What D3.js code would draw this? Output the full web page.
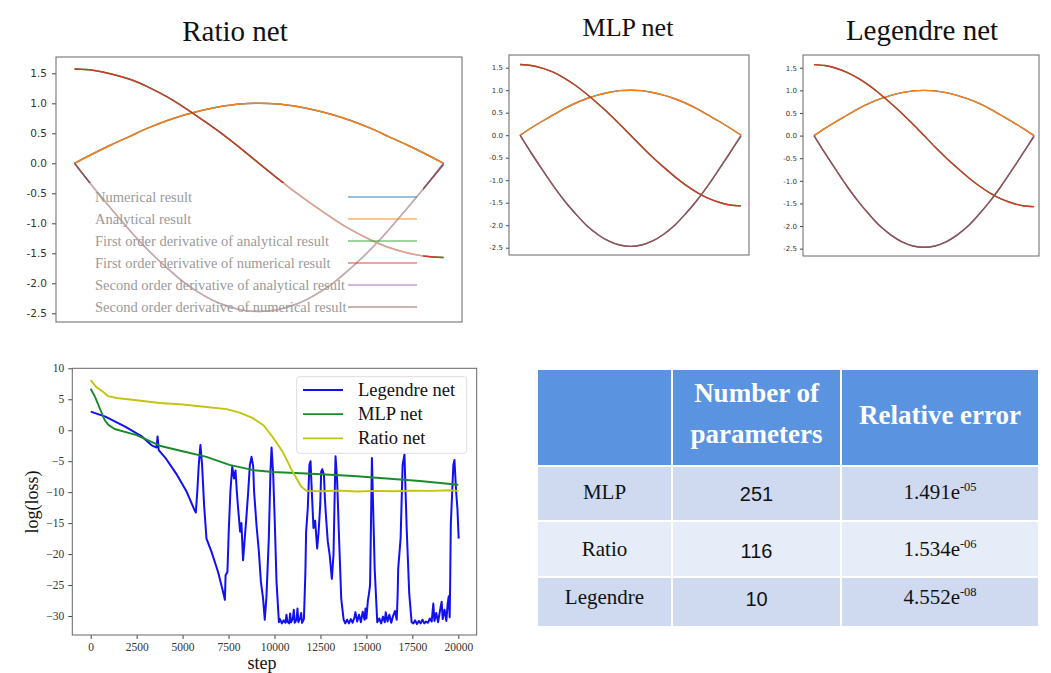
<!DOCTYPE html>
<html><head><meta charset="utf-8">
<script src="https://cdn.jsdelivr.net/npm/d3@7"></script>
<style>body{margin:0;background:#fff}svg{display:block}</style>
</head><body><svg id="c" width="1051" height="673"></svg>
<script>
// ---------- derivative panels data (x from 0 to 2) ----------
const xs = [0,0.1,0.2,0.3,0.4,0.5,0.6,0.7,0.8,0.9,1.0,1.1,1.2,1.3,1.4,1.5,1.6,1.7,1.8,1.9,2.0];
const numerical = [0,0.16,0.31,0.45,0.59,0.71,0.81,0.89,0.95,0.99,1.0,0.99,0.95,0.89,0.81,0.71,0.59,0.45,0.31,0.16,0];
const analytical = [0,0.16,0.31,0.45,0.59,0.71,0.81,0.89,0.95,0.99,1.0,0.99,0.95,0.89,0.81,0.71,0.59,0.45,0.31,0.16,0];
const firstAnalytical = [1.57,1.55,1.49,1.40,1.27,1.11,0.92,0.71,0.49,0.25,0,-0.25,-0.49,-0.71,-0.92,-1.11,-1.27,-1.40,-1.49,-1.55,-1.57];
const firstNumerical = [1.57,1.55,1.49,1.40,1.27,1.11,0.92,0.71,0.49,0.25,0,-0.25,-0.49,-0.71,-0.92,-1.11,-1.27,-1.40,-1.49,-1.55,-1.57];
const secondAnalytical = [0,-0.39,-0.76,-1.12,-1.45,-1.74,-2.0,-2.2,-2.35,-2.44,-2.47,-2.44,-2.35,-2.2,-2.0,-1.74,-1.45,-1.12,-0.76,-0.39,0];
const secondNumerical = [0,-0.39,-0.76,-1.12,-1.45,-1.74,-2.0,-2.2,-2.35,-2.44,-2.47,-2.44,-2.35,-2.2,-2.0,-1.74,-1.45,-1.12,-0.76,-0.39,-0.02];
const derivTicks = [1.5,1.0,0.5,0.0,-0.5,-1.0,-1.5,-2.0,-2.5];
const legendLabels = ["Numerical result","Analytical result","First order derivative of analytical result","First order derivative of numerical result","Second order derivative of analytical result","Second order derivative of numerical result"];
const seriesColors = ["#1f77b4","#ff7f0e","#2ca02c","#cc3a30","#9467bd","#8c564b"];
const panelTitles = ["Ratio net","MLP net","Legendre net"];

// ---------- loss curves ----------
const lossLabels = ["Legendre net","MLP net","Ratio net"];
const lossColors = ["#1010f0","#1a8a2a","#c4c410"];
const legendreLoss = [[0,3.0],[800,2.2],[1900,0.55],[2800,-1.05],[3300,-2.4],[3580,-2.8],[3640,-1.0],[3700,-3.2],[4100,-4.6],[4650,-7.0],[5200,-9.8],[5650,-12.9],[5720,-13.3],[5800,-9.9],[5880,-5.6],[5970,-2.4],[6060,-5.6],[6170,-12.1],[6300,-17.5],[6570,-19.6],[6930,-22.9],[7200,-26.1],[7300,-27.4],[7340,-23.4],[7440,-22.9],[7510,-16.4],[7600,-9.9],[7700,-5.9],[7800,-7.8],[7880,-6.5],[7950,-9.9],[8020,-12.6],[8130,-16.4],[8200,-15.0],[8290,-21.0],[8380,-17.5],[8460,-14.5],[8570,-9.9],[8660,-5.6],[8750,-4.3],[8840,-5.8],[8890,-9.9],[9020,-15.3],[9150,-19.6],[9260,-24.5],[9380,-27.2],[9470,-30.6],[9560,-27.0],[9690,-17.5],[9780,-6.7],[9840,-2.8],[9930,-7.2],[10020,-15.3],[10110,-24.5],[10240,-31.0],
[10300,-30.5],[10400,-31.2],[10500,-30.7],[10600,-31.1],[10650,-29.8],[10700,-30.9],[10800,-31.2],[10850,-29.6],[10900,-31.0],[11000,-30.4],[11050,-29.0],[11100,-31.1],[11200,-30.6],[11250,-28.8],[11300,-31.0],[11400,-30.3],[11450,-29.5],[11500,-31.1],[11600,-30.5],
[11680,-23.0],[11720,-16.4],[11810,-12.6],[11900,-5.6],[11960,-5.0],[12030,-9.9],[12120,-15.8],[12210,-14.6],[12320,-19.1],[12400,-16.4],[12490,-11.9],[12540,-6.7],[12600,-6.3],[12690,-7.2],[12740,-11.0],[12810,-14.3],[12900,-18.0],[13000,-20.1],[13120,-24.0],[13210,-20.1],[13270,-11.0],[13320,-4.2],[13410,-8.3],[13500,-16.4],[13630,-27.2],[13760,-30.6],
[13850,-31.2],[13950,-30.6],[14050,-31.2],[14150,-30.5],[14250,-31.1],[14350,-30.2],[14400,-29.4],[14500,-30.9],[14600,-29.8],[14700,-31.0],[14800,-29.3],[14900,-30.6],[14950,-28.8],[15000,-30.4],[15080,-27.5],[15130,-26.6],[15200,-25.0],
[15300,-4.5],[15450,-22.4],[15590,-31.0],
[15700,-30.4],[15800,-31.2],[15900,-30.1],[16000,-31.0],[16050,-29.4],[16150,-30.9],[16250,-29.8],[16350,-31.1],[16450,-30.0],[16550,-29.2],[16650,-30.6],[16700,-26.5],[16730,-22.3],
[16860,-17.5],[16970,-5.6],[17070,-3.9],[17190,-15.8],[17330,-26.4],[17460,-31.0],
[17550,-31.2],[17650,-30.7],[17750,-31.3],[17850,-30.8],[17950,-31.2],[18050,-30.6],[18150,-31.2],[18250,-30.9],[18350,-31.1],[18450,-30.4],[18550,-30.9],[18640,-28.0],[18700,-30.8],[18800,-29.5],[18900,-31.0],[19000,-29.2],[19094,-27.7],[19150,-30.5],[19250,-29.0],[19350,-30.8],[19420,-28.0],[19480,-26.8],[19530,-30.2],[19560,-24.0],
[19590,-15.3],[19730,-5.6],[19790,-4.8],[19880,-9.9],[19950,-12.6],[20020,-17.5]];
const mlpLoss = [[0,6.7],[250,5.3],[500,3.5],[750,1.7],[950,0.9],[1300,0.2],[2500,-0.8],[3400,-2.0],[3750,-2.5],[5000,-3.4],[6300,-4.3],[7550,-5.6],[8850,-6.45],[9900,-6.75],[11750,-7.0],[14300,-7.4],[16100,-7.8],[17900,-8.2],[20000,-8.8]];
const ratioLoss = [[0,8.1],[300,7.0],[670,6.2],[950,5.5],[1400,5.2],[2500,4.85],[3750,4.4],[5000,4.15],[6300,3.75],[7400,3.4],[8100,2.85],[8800,2.0],[9400,0.8],[9900,-1.1],[10450,-3.5],[10900,-6.2],[11200,-7.8],[11450,-9.1],[11750,-9.8],[12500,-9.85],[13500,-9.75],[14500,-9.9],[15500,-9.8],[16500,-9.85],[17500,-9.75],[18500,-9.8],[19500,-9.7],[20000,-9.8]];
const stepTicks = [0,2500,5000,7500,10000,12500,15000,17500,20000];
const lossTicks = [10,5,0,-5,-10,-15,-20,-25,-30];

// ---------- table ----------
const tableHeaders = ["", "Number of|parameters", "Relative error"];
const models = ["MLP","Ratio","Legendre"];
const paramCounts = ["251","116","10"];
const errMantissa = ["1.491e","1.534e","4.552e"];
const errExponent = ["-05","-06","-08"];

const svg = d3.select('#c');
svg.append('rect').attr('width',1051).attr('height',673).attr('fill','#fff');
const serif = "'Liberation Serif','Times New Roman',serif";

const derivSeries = [numerical, analytical, firstAnalytical, firstNumerical, secondAnalytical, secondNumerical];

function derivPanel(cfg) {
  const x = d3.scaleLinear().domain(cfg.xd).range([cfg.l, cfg.r]);
  const y = d3.scaleLinear().domain(cfg.yd).range([cfg.b, cfg.t]);
  const g = svg.append('g');
  const line = d3.line().x((d,i)=>x(xs[i])).y(d=>y(d)).curve(d3.curveCatmullRom);
  derivSeries.forEach((s,i)=>{
    g.append('path').attr('d', line(s)).attr('fill','none')
      .attr('stroke', seriesColors[i]).attr('stroke-width', cfg.lw);
  });
  if (cfg.legend) {
    const lg = g.append('g');
    lg.append('rect').attr('x',86).attr('y',183).attr('width',337).attr('height',135)
      .attr('fill','#fff').attr('opacity',0.5);
    legendLabels.forEach((t,i)=>{
      const cy = 197 + i*22;
      lg.append('text').attr('x',95).attr('y',cy+5).text(t)
        .attr('font-family',serif).attr('font-size',14.5).attr('fill','#9a9a9a');
      lg.append('line').attr('x1',348).attr('x2',417).attr('y1',cy).attr('y2',cy)
        .attr('stroke',seriesColors[i]).attr('stroke-width',1.3).attr('opacity',0.6);
    });
  }
  const ax = d3.axisLeft(y).tickValues(derivTicks).tickFormat(d=>d.toFixed(1))
    .tickSize(cfg.ts).tickPadding(cfg.tp);
  const ag = g.append('g').attr('transform',`translate(${cfg.l},0)`).call(ax);
  ag.select('.domain').remove();
  ag.selectAll('text').attr('font-family',"'DejaVu Sans',sans-serif").attr('font-size',cfg.fs).attr('fill','#333');
  ag.selectAll('line').attr('stroke','#444');
  g.append('rect').attr('x',cfg.l).attr('y',cfg.t).attr('width',cfg.r-cfg.l).attr('height',cfg.b-cfg.t)
    .attr('fill','none').attr('stroke','#666').attr('stroke-width',1);
  svg.append('text').attr('x',cfg.tx).attr('y',cfg.ty).attr('text-anchor','middle')
    .attr('font-family',serif).attr('font-size',cfg.tfs).attr('fill','#111').text(cfg.title);
}

derivPanel({l:56,r:462,t:57,b:322,xd:[-0.1,2.1],yd:[-2.645,1.772],lw:1.5,ts:4,tp:5,fs:10.5,legend:true,
  title:panelTitles[0],tx:235,ty:41,tfs:29});
derivPanel({l:509,r:749,t:55,b:255,xd:[-0.1,2.072],yd:[-2.662,1.782],lw:1.4,ts:3,tp:3,fs:7,legend:false,
  title:panelTitles[1],tx:628,ty:36,tfs:26});
derivPanel({l:803,r:1039,t:55,b:256,xd:[-0.1,2.045],yd:[-2.662,1.782],lw:1.4,ts:3,tp:3,fs:7,legend:false,
  title:panelTitles[2],tx:922,ty:40,tfs:29});

// ---------- loss chart ----------
(function(){
  const L=72.3,R=476.7,T=368.3,B=635;
  const x = d3.scaleLinear().domain([-1000,21000]).range([L,R]);
  const y = d3.scaleLinear().domain([-33.07,10]).range([B,T]);
  const g = svg.append('g');
  const line = d3.line().x(d=>x(d[0])).y(d=>y(d[1]));
  [legendreLoss, mlpLoss, ratioLoss].forEach((s,i)=>{
    g.append('path').attr('d',line(s)).attr('fill','none').attr('stroke',lossColors[i])
      .attr('stroke-width', i===0 ? 2 : 1.9).attr('stroke-linejoin','round');
  });
  const ax = d3.axisBottom(x).tickValues(stepTicks).tickFormat(d3.format('d')).tickSize(4).tickPadding(4);
  const axg = g.append('g').attr('transform',`translate(0,${B})`).call(ax);
  const ay = d3.axisLeft(y).tickValues(lossTicks).tickFormat(d3.format('d')).tickSize(4).tickPadding(4);
  const ayg = g.append('g').attr('transform',`translate(${L},0)`).call(ay);
  [axg,ayg].forEach(a=>{
    a.select('.domain').remove();
    a.selectAll('text').attr('font-family',serif).attr('font-size',11.5).attr('fill','#333');
    a.selectAll('line').attr('stroke','#444');
  });
  g.append('rect').attr('x',L).attr('y',T).attr('width',R-L).attr('height',B-T)
    .attr('fill','none').attr('stroke','#666');
  g.append('text').attr('x',262).attr('y',669).attr('text-anchor','middle')
    .attr('font-family',serif).attr('font-size',18).attr('fill','#111').text('step');
  g.append('text').attr('transform','translate(38,502) rotate(-90)').attr('text-anchor','middle')
    .attr('font-family',serif).attr('font-size',18).attr('fill','#111').text('log(loss)');
  // legend
  const lg = g.append('g');
  lg.append('rect').attr('x',296.7).attr('y',376.7).attr('width',170).attr('height',76.6).attr('rx',3)
    .attr('fill','#fff').attr('fill-opacity',0.85).attr('stroke','#ddd');
  lossLabels.forEach((t,i)=>{
    const cy = 390 + i*24.2;
    lg.append('line').attr('x1',303).attr('x2',343).attr('y1',cy).attr('y2',cy)
      .attr('stroke',lossColors[i]).attr('stroke-width',1.8);
    lg.append('text').attr('x',358).attr('y',cy+6).text(t)
      .attr('font-family',serif).attr('font-size',18.5).attr('fill','#111');
  });
})();

// ---------- table ----------
(function(){
  const colX = [537,672,841,1039];
  const rowY = [369,466,521,577,627];
  const fills = ["#5a94e0","#cfdaf0","#e7edf8","#cfdaf0"];
  const g = svg.append('g');
  for (let r=0;r<4;r++) for (let c=0;c<3;c++) {
    g.append('rect').attr('x',colX[c]).attr('y',rowY[r])
      .attr('width',colX[c+1]-colX[c]).attr('height',rowY[r+1]-rowY[r])
      .attr('fill',fills[r]).attr('stroke','#fff').attr('stroke-width',2);
  }
  const cx = c => (colX[c]+colX[c+1])/2;
  tableHeaders.forEach((h,c)=>{
    const parts = h.split('|').filter(p=>p.length);
    const n = parts.length;
    parts.forEach((p,k)=>{
      const cy = n===1 ? 415 : (k===0 ? 393 : 434);
      g.append('text').attr('x',cx(c)).attr('y',cy+9).attr('text-anchor','middle')
        .attr('font-family',serif).attr('font-weight','bold').attr('font-size',27)
        .attr('fill','#fff').text(p);
    });
  });
  const rowCy = [492, 549, 597];
  models.forEach((m,r)=>{
    g.append('text').attr('x',cx(0)).attr('y',rowCy[r]+7).attr('text-anchor','middle')
      .attr('font-family',serif).attr('font-size',21).attr('fill','#111').text(m);
    g.append('text').attr('x',cx(1)).attr('y',rowCy[r]+9).attr('text-anchor','middle')
      .attr('font-family',"'Liberation Sans',Arial,sans-serif").attr('font-size',20).attr('fill','#111').text(paramCounts[r]);
    const t = g.append('text').attr('x',cx(2)).attr('y',rowCy[r]+7).attr('text-anchor','middle')
      .attr('font-family',serif).attr('font-size',21).attr('fill','#111');
    t.append('tspan').text(errMantissa[r]);
    t.append('tspan').attr('dy',-8).attr('font-size',12.5).text(errExponent[r]);
  });
})();
</script></body></html>
